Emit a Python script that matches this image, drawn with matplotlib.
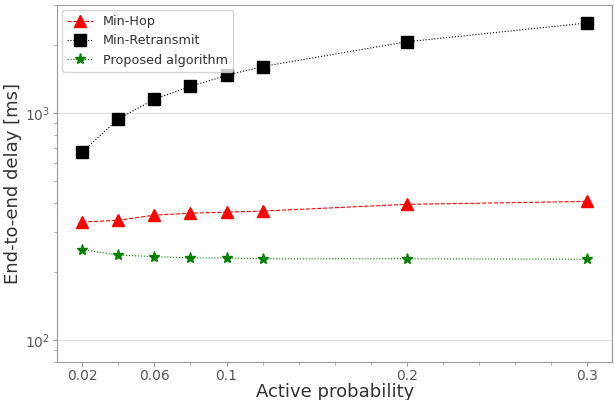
import matplotlib
matplotlib.use("Agg")
import matplotlib.pyplot as plt

# Data
active_prob = [0.02, 0.04, 0.06, 0.08, 0.10, 0.12, 0.20, 0.30]
min_hop = [331, 337, 355, 362, 366, 370, 396, 408]
min_retransmit = [676, 942, 1151, 1312, 1465, 1604, 2061, 2495]
proposed = [250, 237, 233, 230, 230, 228, 228, 227]

major_xticks = [0.02, 0.06, 0.1, 0.2, 0.3]
major_xlabels = ["0.02", "0.06", "0.1", "0.2", "0.3"]

fig, ax = plt.subplots(figsize=(6.14, 4.0), dpi=100)
fig.subplots_adjust(left=0.093, right=0.997, top=0.988, bottom=0.095)

ax.plot(active_prob, min_hop, linestyle="--", linewidth=0.8, color="red",
        marker="^", markersize=9, label="Min-Hop")
ax.plot(active_prob, min_retransmit, linestyle=":", linewidth=0.8, color="black",
        marker="s", markersize=9, label="Min-Retransmit")
ax.plot(active_prob, proposed, linestyle=":", linewidth=0.8, color="green",
        marker="*", markersize=8, label="Proposed algorithm")

ax.set_yscale("log")
ax.set_ylim(80, 3000)
ax.set_xticks(major_xticks)
ax.set_xticklabels(major_xlabels)
ax.set_xticks([x / 100 for x in range(2, 31, 2)], minor=True)

ax.yaxis.grid(True, which="major", color="0.88", linewidth=0.8)
ax.set_axisbelow(True)

for sp in ax.spines.values():
    sp.set_color("0.6")
ax.tick_params(colors="0.35", labelsize=10, which="both", length=3, pad=2)
ax.tick_params(which="minor", length=2)
ax.tick_params(which="both", color="0.6")

ax.set_xlabel("Active probability", fontsize=13, color="0.2", labelpad=0)
ax.set_ylabel("End-to-end delay [ms]", fontsize=13, color="0.2", labelpad=2)

leg = ax.legend(loc="upper left", fontsize=9.2, framealpha=0.8,
                borderaxespad=0.4)
for t in leg.get_texts():
    t.set_color("0.2")

fig.savefig("out.png", dpi=100)
